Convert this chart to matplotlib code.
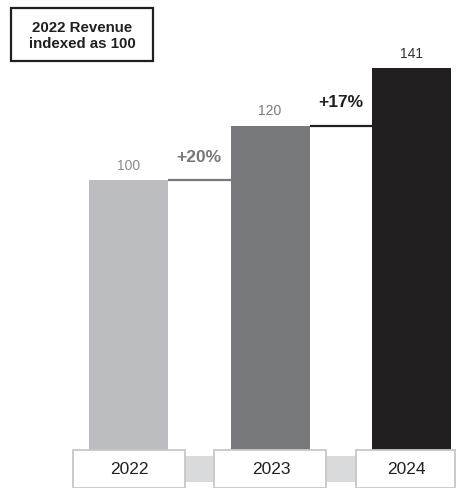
import matplotlib
matplotlib.use("Agg")
import matplotlib.pyplot as plt
from matplotlib.patches import Rectangle

plt.rcParams['font.family'] = ['Liberation Sans', 'DejaVu Sans']

# data
years = ['2022', '2023', '2024']
revenue_index = [100, 120, 141]
growth_labels = ['+20%', '+17%']

bar_colors = ['#bcbdc0', '#77787b', '#231f20']
value_colors = ['#8c8c8c', '#7a7a7c', '#333333']
growth_colors = ['#77787b', '#231f20']

W, H = 458, 489
fig = plt.figure(figsize=(W / 100, H / 100), dpi=100)
ax = fig.add_axes([0, 0, 1, 1])

# pixel mapping: bar centre 0 -> x=128.5px, 141.5px per category; y=0 at 453px from top, 2.72px per unit
px_x = 141.5
px_y = 2.72
ax.set_xlim(-128.5 / px_x, (W - 128.5) / px_x)
ax.set_ylim(-(H - 453) / px_y, 453 / px_y)
ax.axis('off')

x = list(range(len(years)))
bw = 79 / px_x
ax.bar(x, revenue_index, width=bw, color=bar_colors, zorder=3)

for i, v in enumerate(revenue_index):
    ax.annotate(str(v), (x[i], v), xytext=(0, 11), textcoords='offset points',
                ha='center', va='center', fontsize=10, color=value_colors[i])

# step connectors and growth labels
for i, g in enumerate(growth_labels):
    x0 = x[i] + bw / 2
    x1 = x[i + 1] - bw / 2
    ax.plot([x0, x1], [revenue_index[i], revenue_index[i]], color=growth_colors[i],
            lw=1.6, solid_capstyle='butt', zorder=2)
    ax.annotate(g, ((x0 + x1) / 2, revenue_index[i]), xytext=(0, 17), textcoords='offset points',
                ha='center', va='center', fontsize=12.5, fontweight='bold', color=growth_colors[i])

# category label strip at the bottom
box_w = 112 / px_x
band_top = -4 / px_y
band_bot = -30 / px_y
ax.add_patch(Rectangle((x[0], band_bot), x[-1] - x[0], band_top - band_bot,
                       facecolor='#d9dadb', edgecolor='none', zorder=4))
box_top = 2 / px_y
box_bot = -35.5 / px_y
for i, yr in enumerate(years):
    left = x[i] - box_w / 2
    right = x[i] + box_w / 2
    if i == len(years) - 1:
        right = (455 - 128.5) / px_x  # last box is cut short at the right margin
    ax.add_patch(Rectangle((left, box_bot), right - left, box_top - box_bot,
                           facecolor='white', edgecolor='#c6c7c8', lw=1.3, zorder=5))
    ax.text((left + right) / 2 + 1 / px_x, (box_top + box_bot) / 2, yr, ha='center', va='center',
            fontsize=12.5, color='#231f20', zorder=6)

# note box top-left
fig.patches.append(Rectangle((11 / W, (H - 62) / H), 142 / W, 53 / H, transform=fig.transFigure,
                             facecolor='white', edgecolor='#231f20', lw=1.6))
fig.text(82 / W, (H - 36) / H, '2022 Revenue\nindexed as 100', ha='center', va='center',
         fontsize=10.8, fontweight='bold', color='#231f20', linespacing=1.15)

fig.savefig('out.png', dpi=100)
